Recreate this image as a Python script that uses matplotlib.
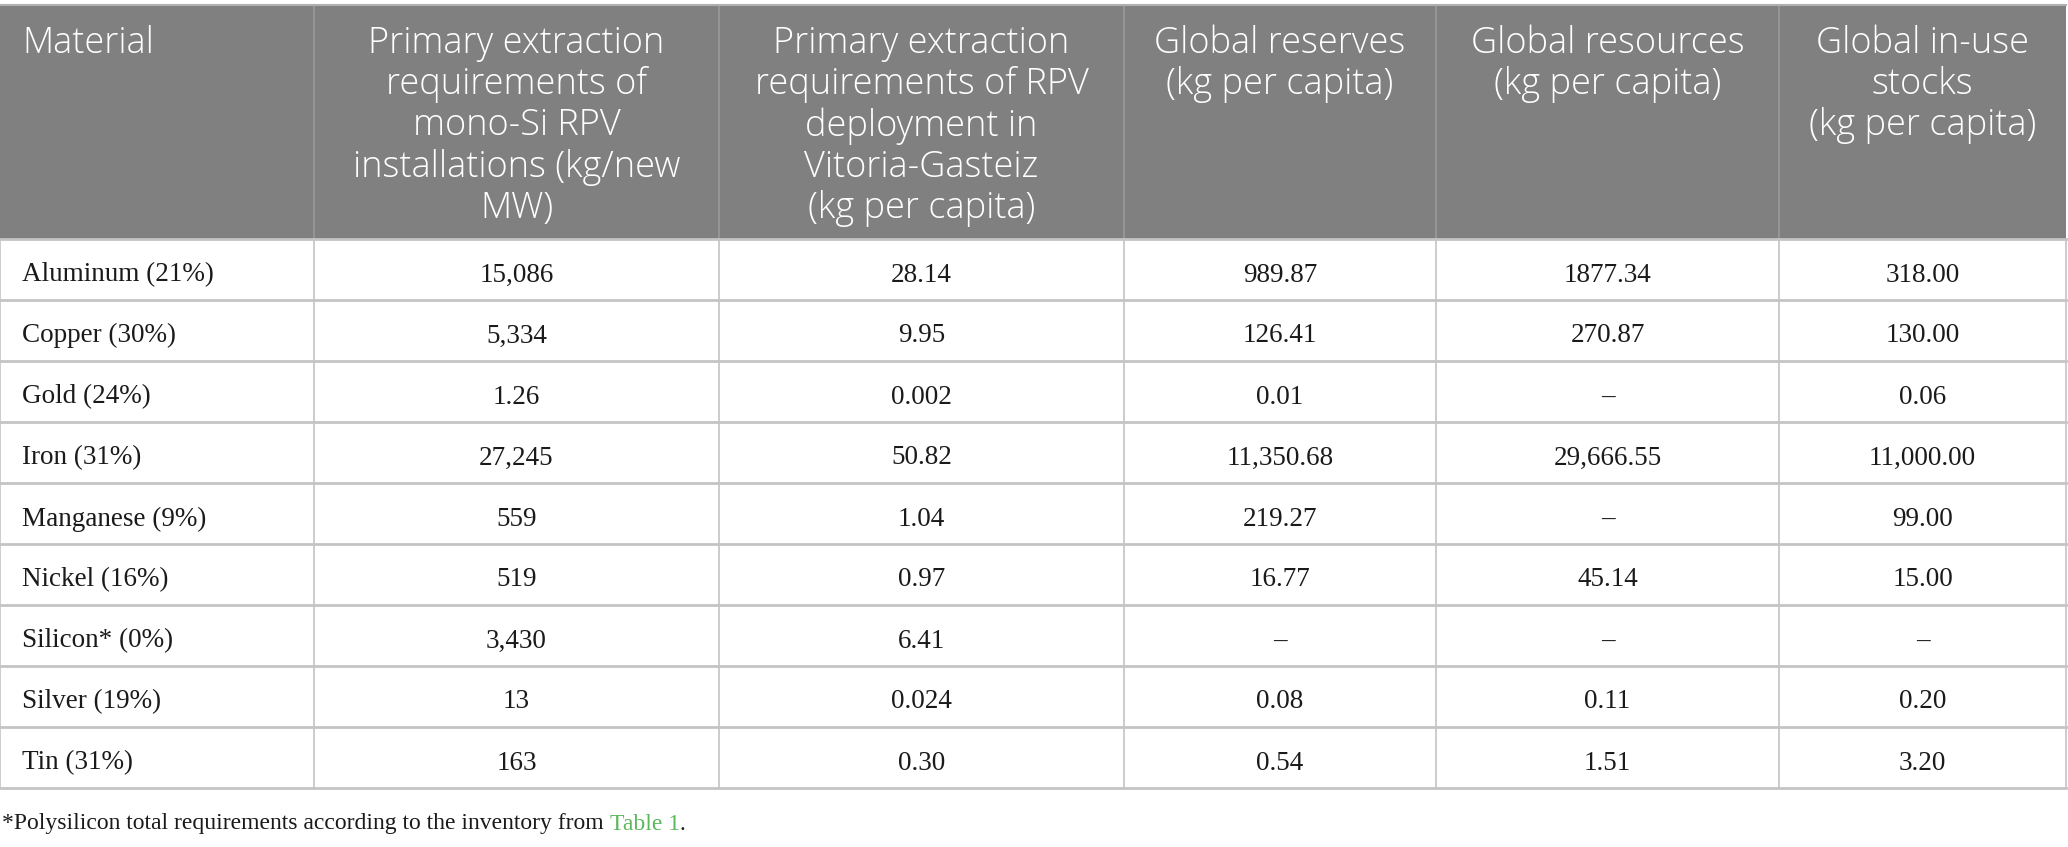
import matplotlib
matplotlib.use("Agg")
import matplotlib.pyplot as plt

# table content
headers = [
    "Material",
    "Primary extraction\nrequirements of\nmono-Si RPV\ninstallations (kg/new\nMW)",
    "Primary extraction\nrequirements of RPV\ndeployment in\nVitoria-Gasteiz\n(kg per capita)",
    "Global reserves\n(kg per capita)",
    "Global resources\n(kg per capita)",
    "Global in-use\nstocks\n(kg per capita)",
]
materials = ["Aluminum (21%)", "Copper (30%)", "Gold (24%)", "Iron (31%)",
             "Manganese (9%)", "Nickel (16%)", "Silicon* (0%)", "Silver (19%)",
             "Tin (31%)"]
mono_si_kg_per_mw = ["15,086", "5,334", "1.26", "27,245", "559", "519",
                     "3,430", "13", "163"]
vitoria_kg_pc = ["28.14", "9.95", "0.002", "50.82", "1.04", "0.97", "6.41",
                 "0.024", "0.30"]
reserves_kg_pc = ["989.87", "126.41", "0.01", "11,350.68", "219.27", "16.77",
                  "–", "0.08", "0.54"]
resources_kg_pc = ["1877.34", "270.87", "–", "29,666.55", "–", "45.14", "–",
                   "0.11", "1.51"]
in_use_kg_pc = ["318.00", "130.00", "0.06", "11,000.00", "99.00", "15.00",
                "–", "0.20", "3.20"]
footnote = "*Polysilicon total requirements according to the inventory from "
footnote_link = "Table 1"

columns = [materials, mono_si_kg_per_mw, vitoria_kg_pc, reserves_kg_pc,
           resources_kg_pc, in_use_kg_pc]

# layout in pixels
W, H = 2068, 847
col_edges = [0, 314, 719, 1124, 1436, 1779, 2066]
top, head_bot, row_h = 5, 239, 61
n_rows = len(materials)
bottom = head_bot + n_rows * row_h

header_bg = "#808080"
grid_col = "#c4c4c4"
text_col = "#1a1a1a"
head_font = ["Open Sans", "Noto Sans", "DejaVu Sans"]
body_font = "Liberation Serif"
head_size = 26
body_size = 19.5

fig = plt.figure(figsize=(W / 100, H / 100), dpi=100)
ax = fig.add_axes([0, 0, 1, 1])
ax.set_xlim(0, W)
ax.set_ylim(H, 0)
ax.axis("off")

# header block
ax.fill_between([col_edges[0], col_edges[-1]], top, head_bot, color=header_bg, lw=0)
for x in col_edges[1:-1]:
    ax.plot([x, x], [top, head_bot], color="#9a9a9a", lw=1.2)

for i, h in enumerate(headers):
    if i == 0:
        x, ha = col_edges[0] + 22, "left"
    else:
        x, ha = (col_edges[i] + col_edges[i + 1]) / 2, "center"
    ax.text(x, top + 20, h, color="white", fontsize=head_size, family=head_font,
            fontweight="light", ha=ha, va="top", linespacing=1.15)

# body grid
for r in range(n_rows + 1):
    y = head_bot + r * row_h
    ax.plot([col_edges[0], col_edges[-1]], [y, y], color=grid_col, lw=2)
for x in col_edges:
    ax.plot([x, x], [head_bot, bottom], color=grid_col, lw=1.2)
ax.plot([col_edges[0], col_edges[-1]], [top, top], color="#b0b0b0", lw=1.5)

# body text
for c, vals in enumerate(columns):
    for r, v in enumerate(vals):
        yb = head_bot + (r + 0.5) * row_h + 12
        if c == 0:
            x, ha = col_edges[0] + 22, "left"
        else:
            x, ha = (col_edges[c] + col_edges[c + 1]) / 2, "center"
        ax.text(x, yb, v, fontsize=body_size, family=body_font,
                color=text_col, ha=ha, va="baseline")

# footnote with green link
t = ax.text(2, bottom + 36, footnote, fontsize=17, family=body_font,
            color=text_col, ha="left", va="center")
t2 = ax.annotate(footnote_link, xy=(1, 0.5), xycoords=t, fontsize=17,
                 family=body_font, color="#5cb85c", ha="left", va="center")
ax.annotate(".", xy=(1, 0.5), xycoords=t2, fontsize=17, family=body_font,
            color=text_col, ha="left", va="center")

fig.savefig("out.png", dpi=100, facecolor="white")
